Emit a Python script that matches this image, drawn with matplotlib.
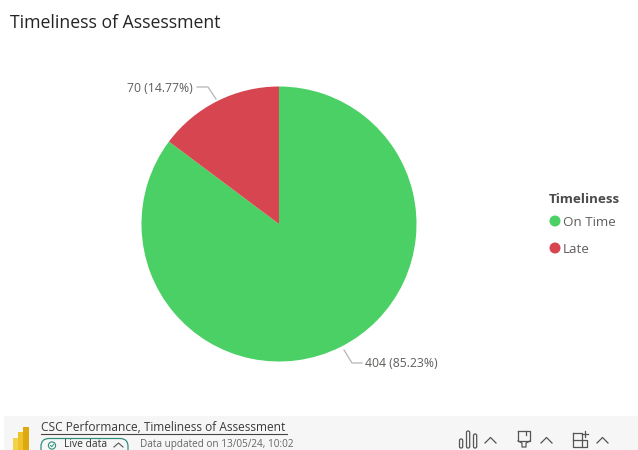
import matplotlib
matplotlib.use('Agg')
import matplotlib.pyplot as plt
from matplotlib.patches import Rectangle, FancyBboxPatch, Circle

plt.rcParams['font.family'] = ['Open Sans', 'DejaVu Sans']

categories = ['On Time', 'Late']
counts = [404, 70]
percents = ['85.23%', '14.77%']
colors = ['#4BD065', '#D64550']
legend_title = 'Timeliness'
title = 'Timeliness of Assessment'
report_name = 'CSC Performance, Timeliness of Assessment'
updated = 'Data updated on 13/05/24, 10:02'

W, H = 638, 450
fig = plt.figure(figsize=(W / 100, H / 100), dpi=100)

# overlay in pixel coordinates for the text and the footer bar
bg = fig.add_axes([0, 0, 1, 1])
bg.set_xlim(0, W)
bg.set_ylim(H, 0)
bg.axis('off')

# pie, centre (279, 224) radius 137
cx, cy, r = 279, 224, 137.5
pie_ax = fig.add_axes([(cx - r) / W, 1 - (cy + r) / H, 2 * r / W, 2 * r / H])
pie_ax.pie(counts, colors=colors, startangle=90, counterclock=False, radius=1)
pie_ax.set_xlim(-1, 1)
pie_ax.set_ylim(-1, 1)

grey = '#605E5C'
bg.text(10, 28, title, fontsize=12.7, color='#252423', va='baseline', ha='left')

# data labels with leader lines
bg.plot([344, 352, 362], [350, 363, 363], color='#b5b5b5', lw=0.9)
bg.text(365, 367, f'{counts[0]} ({percents[0]})', fontsize=8.8, color=grey, va='baseline')
bg.plot([216, 208, 197], [99, 87, 87], color='#b5b5b5', lw=0.9)
bg.text(193, 91.5, f'{counts[1]} ({percents[1]})', fontsize=8.8, color=grey, va='baseline', ha='right')

# legend
bg.text(549, 203, legend_title, fontsize=9.6, color='#4a4a4a', va='baseline', fontweight='bold')
for y, name, col in zip([221, 248], categories, colors):
    bg.add_patch(Circle((555, y), 5.5, color=col, lw=0))
    bg.text(563, y + 5, name, fontsize=9.6, color=grey, va='baseline')

# footer bar
bg.add_patch(Rectangle((4, 416), W - 4, 34, color='#F6F6F6', lw=0))
bg.add_patch(Rectangle((13, 438), 5, 12, color='#F2D14B', lw=0))
bg.add_patch(Rectangle((18, 432), 5, 18, color='#EFC22A', lw=0))
bg.add_patch(Rectangle((23, 427), 6, 23, color='#DDA90E', lw=0))
bg.text(41, 431, report_name, fontsize=8.6, color='#3a3a3a', va='baseline')
bg.plot([41, 287], [434, 434], color='#444444', lw=0.8)
bg.add_patch(FancyBboxPatch((41, 438.5), 87, 22, boxstyle='round,pad=0,rounding_size=8',
                            fc='none', ec='#2f8f7f', lw=0.9))
bg.add_patch(Circle((52, 445.5), 3.6, fc='none', ec='#2f8f7f', lw=0.8))
bg.plot([50.5, 51.7, 53.7], [445.5, 446.7, 444.3], color='#2f8f7f', lw=0.7)
bg.text(64, 447, 'Live data', fontsize=7.4, color='#333333', va='baseline')
bg.plot([114, 118.5, 123], [447, 443, 447], color='#555555', lw=0.8)
bg.text(140, 447, updated, fontsize=7.2, color='#666666', va='baseline')

# footer icons
icon = '#555555'
for x, y0, hgt in [(459.5, 439, 9), (466.5, 431, 17), (473.5, 434, 14)]:
    bg.add_patch(FancyBboxPatch((x, y0), 3.2, hgt, boxstyle='round,pad=0,rounding_size=1.5',
                                fc='none', ec=icon, lw=0.9))
bg.plot([518, 530, 530, 518, 518], [431, 431, 441, 441, 431], color=icon, lw=0.9)
bg.plot([518, 522, 522, 526, 526, 530], [441, 443, 447, 447, 443, 441], color=icon, lw=0.9)
bg.plot([526, 526], [431, 435], color=icon, lw=0.9)
bg.plot([573, 582, 582, 573, 573], [433, 433, 447, 447, 433], color=icon, lw=0.9)
bg.plot([573, 587, 587, 582], [440, 440, 447, 447], color=icon, lw=0.9)
bg.plot([585, 585], [431, 437], color=icon, lw=0.9)
bg.plot([582, 588], [434, 434], color=icon, lw=0.9)
for x in [490.5, 546.5, 602.5]:
    bg.plot([x - 5.5, x, x + 5.5], [443, 437.5, 443], color=icon, lw=0.9)

fig.savefig('out.png', dpi=100)
